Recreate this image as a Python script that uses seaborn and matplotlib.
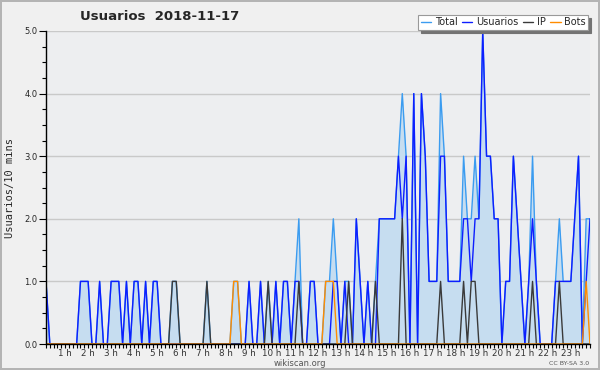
import matplotlib
matplotlib.use("Agg")
import matplotlib.pyplot as plt
import matplotlib.transforms as mtransforms
from matplotlib.ticker import FixedLocator, MultipleLocator, FormatStrFormatter
import numpy as np
import pandas as pd
import seaborn as sns

# users per 10 minute slot, 2018-11-17
usuarios = [1, 0, 0, 0, 0, 0, 0, 0, 0, 1,
            1, 1, 0, 0, 1, 0, 0, 1, 1, 1,
            0, 1, 0, 1, 1, 0, 1, 0, 1, 1,
            0, 0, 0, 0, 0, 0, 0, 0, 0, 0,
            0, 0, 0, 0, 0, 0, 0, 0, 0, 0,
            0, 0, 0, 1, 0, 0, 1, 0, 0, 0,
            1, 0, 1, 1, 0, 1, 1, 0, 0, 1,
            1, 0, 0, 0, 0, 1, 1, 0, 1, 0,
            0, 2, 1, 0, 1, 0, 0, 2, 2, 2,
            2, 2, 3, 2, 3, 0, 4, 0, 4, 3,
            1, 1, 1, 3, 3, 1, 1, 1, 1, 2,
            2, 1, 2, 2, 5, 3, 3, 2, 2, 0,
            1, 1, 3, 2, 1, 0, 1, 2, 1, 0,
            0, 0, 0, 1, 1, 1, 1, 1, 2, 3,
            0, 1, 2]
ip = [0, 0, 0, 0, 0, 0, 0, 0, 0, 0,
      0, 0, 0, 0, 0, 0, 0, 0, 0, 0,
      0, 0, 0, 0, 0, 0, 0, 0, 0, 0,
      0, 0, 0, 1, 1, 0, 0, 0, 0, 0,
      0, 0, 1, 0, 0, 0, 0, 0, 0, 0,
      0, 0, 0, 0, 0, 0, 0, 0, 1, 0,
      0, 0, 0, 0, 0, 0, 1, 0, 0, 0,
      0, 0, 0, 0, 0, 0, 0, 0, 0, 1,
      0, 0, 0, 0, 0, 0, 1, 0, 0, 0,
      0, 0, 0, 2, 0, 0, 0, 0, 0, 0,
      0, 0, 0, 1, 0, 0, 0, 0, 0, 1,
      0, 1, 1, 0, 0, 0, 0, 0, 0, 0,
      0, 0, 0, 0, 0, 0, 0, 1, 0, 0,
      0, 0, 0, 0, 1, 0, 0, 0, 0, 0,
      0, 0, 0]
bots = [0, 0, 0, 0, 0, 0, 0, 0, 0, 0,
        0, 0, 0, 0, 0, 0, 0, 0, 0, 0,
        0, 0, 0, 0, 0, 0, 0, 0, 0, 0,
        0, 0, 0, 0, 0, 0, 0, 0, 0, 0,
        0, 0, 0, 0, 0, 0, 0, 0, 0, 1,
        1, 0, 0, 0, 0, 0, 0, 0, 0, 0,
        0, 0, 0, 0, 0, 0, 0, 0, 0, 0,
        0, 0, 0, 1, 1, 1, 0, 0, 0, 0,
        0, 0, 0, 0, 0, 0, 0, 0, 0, 0,
        0, 0, 0, 0, 0, 0, 0, 0, 0, 0,
        0, 0, 0, 0, 0, 0, 0, 0, 0, 0,
        0, 0, 0, 0, 0, 0, 0, 0, 0, 0,
        0, 0, 0, 0, 0, 0, 0, 0, 0, 0,
        0, 0, 0, 0, 0, 0, 0, 0, 0, 0,
        0, 1, 0]
hours = list(range(1, 24))
hour_labels = [f"{h} h" for h in hours]

slots = np.arange(len(usuarios))
total = np.array(usuarios) + np.array(ip) + np.array(bots)
df = pd.DataFrame({"slot": slots, "Total": total, "Usuarios": usuarios,
                   "IP": ip, "Bots": bots})

colors = {"Total": "#3b9cf0", "Usuarios": "#0d1eff", "IP": "#3a3a3a", "Bots": "#ff8c00"}

sns.set_theme(style="white")
plt.rcParams["font.family"] = ["DejaVu Sans"]

fig = plt.figure(figsize=(6, 3.7), dpi=100, facecolor="#f0f0f0")
fig.patch.set_edgecolor("#b4b4b4")
fig.patch.set_linewidth(1.5)
ax = fig.add_axes([46 / 600, 26 / 370, 544 / 600, 313 / 370])
ax.set_facecolor("#edeef0")

ax.fill_between(df["slot"], df["Total"], color="#c6ddf0", linewidth=0, zorder=1)
for name in ["Total", "Usuarios", "IP", "Bots"]:
    sns.lineplot(data=df, x="slot", y=name, color=colors[name], linewidth=1.0,
                 label=name, ax=ax, zorder=2)

ax.set_xlim(0, len(usuarios) - 1)
ax.set_ylim(0, 5)
ax.set_xlabel("")
ax.set_ylabel("")

# axes, ticks, grid
ax.yaxis.set_major_locator(MultipleLocator(1))
ax.yaxis.set_minor_locator(MultipleLocator(0.25))
ax.yaxis.set_major_formatter(FormatStrFormatter("%.1f"))
ax.xaxis.set_major_locator(FixedLocator([6 * h for h in hours]))
ax.xaxis.set_minor_locator(MultipleLocator(1))
ax.set_xticklabels(hour_labels)
ax.yaxis.grid(True, color="#c9c9c9", linewidth=1)
ax.set_axisbelow(True)
for side in ["top", "right"]:
    ax.spines[side].set_visible(False)
for side in ["left", "bottom"]:
    ax.spines[side].set_color("black")
    ax.spines[side].set_linewidth(1)
ax.tick_params(axis="x", which="both", direction="out", length=3, width=0.8,
               color="black", labelsize=6.3, pad=0.5, labelcolor="#333333", bottom=True)
ax.tick_params(axis="y", which="major", direction="out", length=5, width=0.8,
               color="black", labelsize=6, pad=1, left=True)
ax.tick_params(axis="y", which="minor", direction="out", length=3, width=0.8,
               color="black", left=True)
offset = mtransforms.ScaledTranslation(-4 / 100, 0, fig.dpi_scale_trans)
for lab in ax.get_xticklabels():
    lab.set_transform(lab.get_transform() + offset)

leg = ax.legend(ncol=4, loc="upper right", bbox_to_anchor=(588 / 600, 1 - 15 / 370),
                bbox_transform=fig.transFigure, fontsize=7, frameon=True,
                fancybox=False, framealpha=1, edgecolor="#999999",
                shadow={"color": "0.45", "alpha": 1.0}, handlelength=1.1,
                handletextpad=0.35, columnspacing=0.45, borderpad=0.25,
                borderaxespad=0)
leg.get_frame().set_linewidth(0.8)

fig.text(80 / 600, 1 - 17 / 370, "Usuarios  2018-11-17", fontsize=9.5,
         fontweight="bold", va="center", ha="left")
fig.text(10 / 600, 1 - 188 / 370, "Usuarios/10 mins", rotation=90,
         family="DejaVu Sans Mono", fontsize=7.5, va="center", ha="center")
fig.text(300 / 600, 1 - 363.5 / 370, "wikiscan.org", fontsize=6,
         color="#555555", ha="center", va="center")
fig.text(589 / 600, 1 - 363.5 / 370, "CC BY-SA 3.0", fontsize=4.5,
         color="#555555", ha="right", va="center")

fig.savefig("out.png", dpi=100, facecolor=fig.get_facecolor(),
            edgecolor=fig.patch.get_edgecolor())
